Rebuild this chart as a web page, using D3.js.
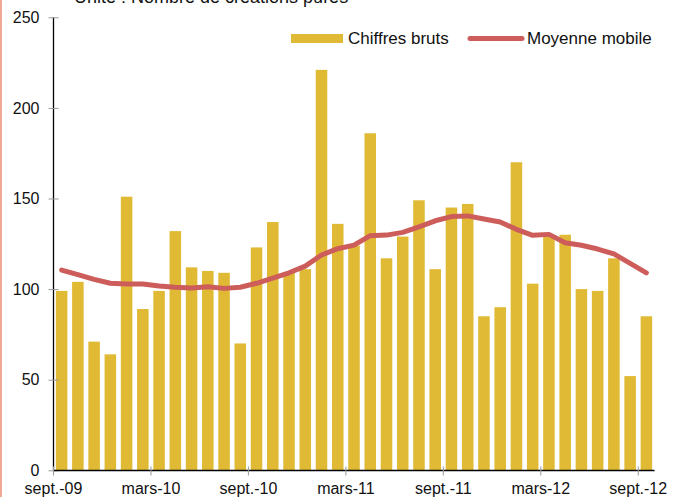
<!DOCTYPE html>
<meta charset="utf-8">
<style>
  body { margin: 0; background: #fff; }
  svg { display: block; font-family: "Liberation Sans", Arial, sans-serif; }
  .axis text { fill: #111; font-size: 16px; }
</style>
<script src="https://d3js.org/d3.v7.min.js"></script>
<body>
<svg id="chart"></svg>
<script>
const width = 691, height = 497;

// monthly data, sept.-09 .. sept.-12
const months = ['sept.-09','oct.-09','nov.-09','déc.-09','janv.-10','févr.-10','mars-10','avr.-10','mai-10','juin-10','juil.-10','août-10',
  'sept.-10','oct.-10','nov.-10','déc.-10','janv.-11','févr.-11','mars-11','avr.-11','mai-11','juin-11','juil.-11','août-11',
  'sept.-11','oct.-11','nov.-11','déc.-11','janv.-12','févr.-12','mars-12','avr.-12','mai-12','juin-12','juil.-12','août-12','sept.-12'];
const raw = [99, 104, 71, 64, 151, 89, 99, 132, 112, 110, 109, 70,
  123, 137, 109, 111, 221, 136, 124, 186, 117, 129, 149, 111,
  145, 147, 85, 90, 170, 103, 130, 130, 100, 99, 117, 52, 85];
const moving = [110.5, 108, 105.4, 103.2, 102.8, 102.8, 101.7, 101, 100.6, 101.3, 100.4, 101,
  103.2, 106, 109, 112.7, 118.8, 122.3, 124.3, 129.5, 129.8, 131.3, 134.4, 137.7,
  140, 140.4, 138.7, 137, 133, 129.7, 130.2, 125.6, 124.2, 122.1, 119.4, 114.2, 109];
const tickMonths = ['sept.-09','mars-10','sept.-10','mars-11','sept.-11','mars-12','sept.-12'];
const yTicks = [0, 50, 100, 150, 200, 250];

const barColor = '#e0ba34';
const lineColor = '#cd5d5a';

const svg = d3.select('#chart')
    .attr('width', width)
    .attr('height', height);

// left border line
svg.append('rect')
    .attr('x', 0).attr('y', 0)
    .attr('width', 2).attr('height', height)
    .attr('fill', '#f0a898');

const x = d3.scaleBand()
    .domain(months)
    .range([53.5, 654.5]);

const y = d3.scaleLinear()
    .domain([0, 250])
    .range([470.3, 17.3]);

const barW = x.bandwidth() * 0.71;
const barOff = (x.bandwidth() - barW) / 2;

// title
svg.append('text')
    .attr('x', 74).attr('y', 3)
    .attr('font-size', 18)
    .attr('fill', '#111')
    .text('Unité : Nombre de créations pures');

svg.append('g')
  .selectAll('rect')
    .data(raw)
  .enter().append('rect')
    .attr('x', function(d, i) { return x(months[i]) + barOff; })
    .attr('y', function(d) { return y(d); })
    .attr('width', barW)
    .attr('height', function(d) { return y(0) - y(d); })
    .attr('fill', barColor);

const line = d3.line()
    .x(function(d, i) { return x(months[i]) + x.bandwidth() / 2; })
    .y(function(d) { return y(d); });

svg.append('path')
    .datum(moving)
    .attr('d', line)
    .attr('fill', 'none')
    .attr('stroke', lineColor)
    .attr('stroke-width', 5)
    .attr('stroke-linejoin', 'round')
    .attr('stroke-linecap', 'round');

// y axis
const yAxis = svg.append('g')
    .attr('class', 'axis')
    .attr('transform', 'translate(53.5,0)')
    .call(d3.axisLeft(y).tickValues(yTicks).tickSize(5).tickPadding(9));
yAxis.select('.domain').attr('stroke', '#000').attr('stroke-width', 1.3).attr('d', 'M0,' + y(250) + 'V' + y(0));
yAxis.selectAll('.tick line').attr('stroke', '#999').attr('x1', 5).attr('x2', -5);

// x axis
const xAxis = svg.append('g')
    .attr('class', 'axis')
    .attr('transform', 'translate(0,470.5)')
    .call(d3.axisBottom(x).tickValues(tickMonths).tickSize(5).tickPadding(10)
      .tickFormat(function(d) { return d; }));
xAxis.select('.domain').attr('stroke', '#000').attr('stroke-width', 1.3).attr('d', 'M53.5,0H654.5');
xAxis.selectAll('.tick').attr('transform', function(d) { return 'translate(' + x(d) + ',0)'; });
xAxis.selectAll('.tick line').attr('stroke', '#999').attr('y1', -4).attr('y2', 5);
xAxis.selectAll('.tick text').attr('dy', null).attr('y', 23);

// legend
const legend = svg.append('g').attr('font-size', 17).attr('fill', '#111');
legend.append('rect')
    .attr('x', 291).attr('y', 34)
    .attr('width', 52).attr('height', 9)
    .attr('fill', barColor);
legend.append('text')
    .attr('x', 348).attr('y', 43.5)
    .text('Chiffres bruts');
legend.append('line')
    .attr('x1', 470).attr('x2', 522)
    .attr('y1', 38.5).attr('y2', 38.5)
    .attr('stroke', lineColor)
    .attr('stroke-width', 5)
    .attr('stroke-linecap', 'round');
legend.append('text')
    .attr('x', 527).attr('y', 43.5)
    .text('Moyenne mobile');
</script>
</body>
